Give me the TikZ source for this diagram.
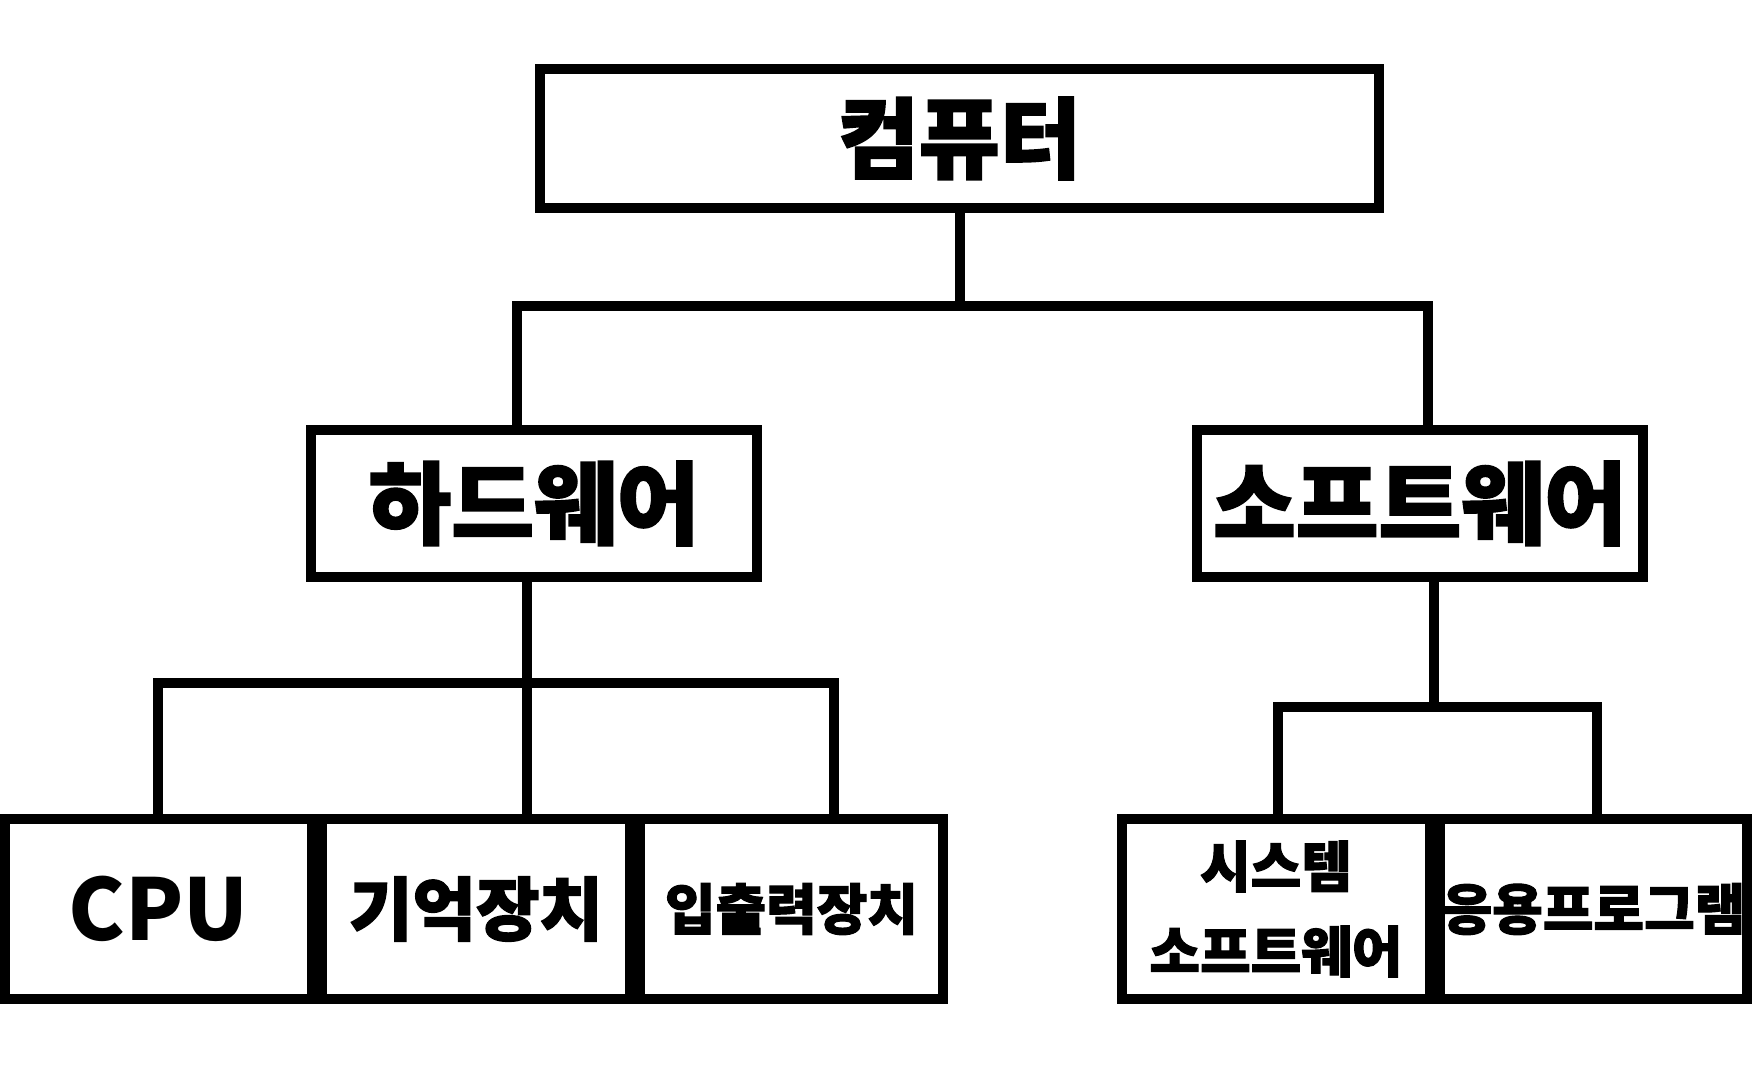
\documentclass[tikz,border=0pt]{standalone}
\usepackage{fontspec}
\newfontfamily\kr{Noto Sans CJK KR}[BoldFeatures={FakeBold=2}]
\newfontfamily\krlat{Noto Sans CJK KR}
\begin{document}
\begin{tikzpicture}[x=1pt,y=-1pt,
  box/.style={draw=black,line width=10pt,rectangle,inner sep=0pt,align=center,text=black},
  conn/.style={draw=black,line width=10pt},
  big/.style={font=\kr\bfseries\fontsize{90}{100}\selectfont},
  small/.style={font=\kr\bfseries\fontsize{55}{85}\selectfont}]
\fill[white] (0,0) rectangle (1752,1080);
\useasboundingbox (0,0) rectangle (1752,1080);
% boxes
\node[box,minimum width=839pt,minimum height=139pt,font=\kr\bfseries\fontsize{88}{100}\selectfont] (top) at (959.5,138.5) {컴퓨터};
\node[box,big,minimum width=446pt,minimum height=147pt] (hw) at (534,503.5) {하드웨어};
\node[box,big,minimum width=446pt,minimum height=147pt] (sw) at (1420,503.5) {소프트웨어};
\node[box,minimum width=307pt,minimum height=180pt,font=\krlat\bfseries\fontsize{85}{100}\selectfont] (cpu) at (158.5,909) {CPU};
\node[box,minimum width=308pt,minimum height=180pt,font=\kr\bfseries\fontsize{69}{80}\selectfont] (mem) at (476,909) {기억장치};
\node[box,small,minimum width=303pt,minimum height=180pt] (io) at (791.5,909) {입출력장치};
\node[box,small,minimum width=308pt,minimum height=180pt] (sys) at (1276,909) {시스템\\소프트웨어};
\node[box,small,minimum width=307pt,minimum height=180pt] (app) at (1593.5,909) {응용프로그램};
% connector points
\coordinate (t0) at (959.5,208);
\coordinate (t1) at (959.5,306);
\coordinate (ta) at (517,430);
\coordinate (tb) at (1428,430);
\coordinate (h0) at (527,577);
\coordinate (h1) at (527,683);
\coordinate (c1) at (158,819);
\coordinate (c2) at (527,819);
\coordinate (c3) at (834,819);
\coordinate (s0) at (1434,577);
\coordinate (s1) at (1434,707);
\coordinate (d1) at (1278,819);
\coordinate (d2) at (1597,819);
% connectors
\draw[conn] (t0) -- (t1);
\draw[conn] (t1) -| (ta);
\draw[conn] (t1) -| (tb);
\draw[conn] (h0) -- (h1);
\draw[conn] (h1) -| (c1);
\draw[conn] (h1) -- (c2);
\draw[conn] (h1) -| (c3);
\draw[conn] (s0) -- (s1);
\draw[conn] (s1) -| (d1);
\draw[conn] (s1) -| (d2);
\end{tikzpicture}
\end{document}
